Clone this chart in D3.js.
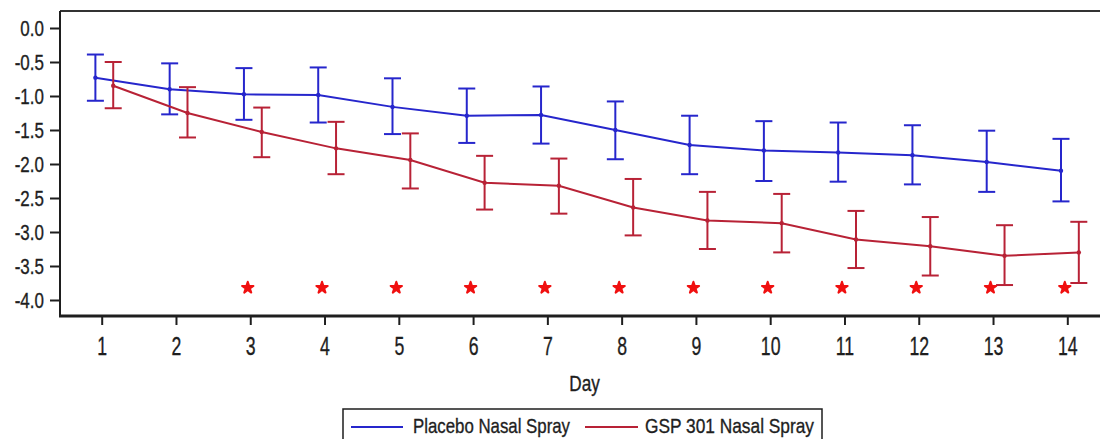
<!DOCTYPE html>
<html>
<head>
<meta charset="utf-8">
<script src="https://cdnjs.cloudflare.com/ajax/libs/d3/7.8.5/d3.min.js"></script>
<style>
  body { margin: 0; background: #fff; }
  svg { display: block; font-family: "Liberation Sans", Arial, sans-serif; }
  .lbl { stroke: #1e1e1e; stroke-width: 0.35px; }
</style>
</head>
<body>
<svg></svg>
<script>
let w = 1100;
let h = 439;
let svg = d3.select("svg");

// values (change from baseline)
let days = [1, 2, 3, 4, 5, 6, 7, 8, 9, 10, 11, 12, 13, 14];
let placeboMean  = [-0.73, -0.90, -0.975, -0.985, -1.16, -1.29, -1.28, -1.50, -1.72, -1.80, -1.83, -1.87, -1.97, -2.10];
let placeboUpper = [-0.39, -0.52, -0.59, -0.58, -0.74, -0.89, -0.86, -1.08, -1.29, -1.37, -1.39, -1.43, -1.51, -1.63];
let placeboLower = [-1.07, -1.27, -1.35, -1.39, -1.56, -1.69, -1.70, -1.93, -2.15, -2.25, -2.26, -2.30, -2.41, -2.55];
let gspMean  = [-0.85, -1.25, -1.53, -1.77, -1.94, -2.275, -2.32, -2.64, -2.83, -2.87, -3.11, -3.21, -3.35, -3.30];
let gspUpper = [-0.50, -0.87, -1.17, -1.38, -1.55, -1.88, -1.92, -2.22, -2.41, -2.44, -2.69, -2.78, -2.90, -2.85];
let gspLower = [-1.18, -1.61, -1.90, -2.15, -2.36, -2.67, -2.73, -3.05, -3.25, -3.30, -3.53, -3.64, -3.78, -3.75];
let starDays = [3, 4, 5, 6, 7, 8, 9, 10, 11, 12, 13, 14];
let starValue = -3.82;
let yTicks = [0, -0.5, -1, -1.5, -2, -2.5, -3, -3.5, -4];
let seriesNames = ["Placebo Nasal Spray", "GSP 301 Nasal Spray"];

let blue = "#2626cc";
let red = "#b82236";
let ink = "#1e1e1e";

let padLeft = 60, padTop = 11, axisY = 316;

svg.attr("width", w).attr("height", h);

let xScale = d3.scaleLinear().domain([1, 14]).range([101.7, 1067.3]);
let yScale = d3.scaleLinear().domain([0, -4]).range([28, 300]);

// frame
svg.append("line").attr("x1", padLeft).attr("x2", w + 5).attr("y1", padTop).attr("y2", padTop)
   .attr("stroke", "#333").attr("stroke-width", 2);
svg.append("line").attr("x1", padLeft).attr("x2", padLeft).attr("y1", padTop).attr("y2", axisY)
   .attr("stroke", ink).attr("stroke-width", 2);

// axes
let yAxis = d3.axisLeft(yScale).tickValues(yTicks).tickSize(10).tickFormat(d => d.toFixed(1));
let gy = svg.append("g").attr("transform", `translate(${padLeft}, 0)`).call(yAxis);
gy.select(".domain").remove();
gy.selectAll(".tick line").attr("stroke", ink).attr("stroke-width", 2);
gy.selectAll(".tick text")
  .attr("class", "lbl")
  .attr("x", -21)
  .attr("fill", ink)
  .style("font-size", "22px")
  .attr("transform", "scale(0.77,1)");

let xAxis = d3.axisBottom(xScale).tickValues(days).tickSize(9).tickPadding(12).tickFormat(d3.format("d"));
let gx = svg.append("g").attr("transform", `translate(0, ${axisY})`).call(xAxis);
gx.select(".domain").remove();
gx.selectAll(".tick line").attr("stroke", ink).attr("stroke-width", 2);
gx.selectAll(".tick text")
  .attr("class", "lbl")
  .attr("fill", ink)
  .style("font-size", "26px")
  .attr("transform", "scale(0.68,1)");

svg.append("line").attr("x1", padLeft - 1).attr("x2", w + 5).attr("y1", axisY).attr("y2", axisY)
   .attr("stroke", ink).attr("stroke-width", 3);

svg.append("text")
   .attr("class", "lbl")
   .attr("transform", `translate(${xScale(7.5)}, 391) scale(0.78,1)`)
   .attr("text-anchor", "middle")
   .attr("fill", ink)
   .style("font-size", "22px")
   .text("Day");

// series with error bars
let drawSeries = (mean, upper, lower, offset, color) => {
  let pts = days.map((d, i) => ({ x: d + offset, m: mean[i], u: upper[i], l: lower[i] }));
  let g = svg.append("g");
  g.append("path")
   .datum(pts)
   .attr("fill", "none")
   .attr("stroke", color)
   .attr("stroke-width", 2)
   .attr("d", d3.line().x(d => xScale(d.x)).y(d => yScale(d.m)));
  g.selectAll(".bar").data(pts).enter().append("line")
   .attr("x1", d => xScale(d.x)).attr("x2", d => xScale(d.x))
   .attr("y1", d => yScale(d.u)).attr("y2", d => yScale(d.l))
   .attr("stroke", color).attr("stroke-width", 2);
  g.selectAll(".capU").data(pts).enter().append("line")
   .attr("x1", d => xScale(d.x) - 8.5).attr("x2", d => xScale(d.x) + 8.5)
   .attr("y1", d => yScale(d.u)).attr("y2", d => yScale(d.u))
   .attr("stroke", color).attr("stroke-width", 2);
  g.selectAll(".capL").data(pts).enter().append("line")
   .attr("x1", d => xScale(d.x) - 8.5).attr("x2", d => xScale(d.x) + 8.5)
   .attr("y1", d => yScale(d.l)).attr("y2", d => yScale(d.l))
   .attr("stroke", color).attr("stroke-width", 2);
  g.selectAll(".dot").data(pts).enter().append("circle")
   .attr("cx", d => xScale(d.x)).attr("cy", d => yScale(d.m))
   .attr("r", 2.2).attr("fill", color);
}

drawSeries(placeboMean, placeboUpper, placeboLower, -0.085, blue);
drawSeries(gspMean, gspUpper, gspLower, 0.155, red);

// significance stars
svg.selectAll(".star").data(starDays).enter().append("path")
   .attr("transform", d => `translate(${xScale(d) - 2.5}, ${yScale(starValue)})`)
   .attr("d", d3.symbol().type(d3.symbolStar).size(40))
   .attr("fill", "#f01010")
   .attr("stroke", "#f01010")
   .attr("stroke-width", 2)
   .attr("stroke-linejoin", "round");

// legend
let lg = svg.append("g");
lg.append("rect").attr("x", 343).attr("y", 409).attr("width", 479).attr("height", 40)
  .attr("fill", "#fff").attr("stroke", ink).attr("stroke-width", 1.5);
let legendItems = [
  { name: seriesNames[0], color: blue, x1: 351, x2: 403, tx: 413, len: 157 },
  { name: seriesNames[1], color: red, x1: 585, x2: 638, tx: 645, len: 169 }
];
legendItems.forEach(it => {
  lg.append("line").attr("x1", it.x1).attr("x2", it.x2).attr("y1", 427).attr("y2", 427)
    .attr("stroke", it.color).attr("stroke-width", 2);
  lg.append("text").attr("class", "lbl").attr("x", it.tx).attr("y", 433)
    .attr("textLength", it.len).attr("lengthAdjust", "spacingAndGlyphs")
    .attr("fill", ink)
    .style("font-size", "21px")
    .text(it.name);
});
</script>
</body>
</html>
